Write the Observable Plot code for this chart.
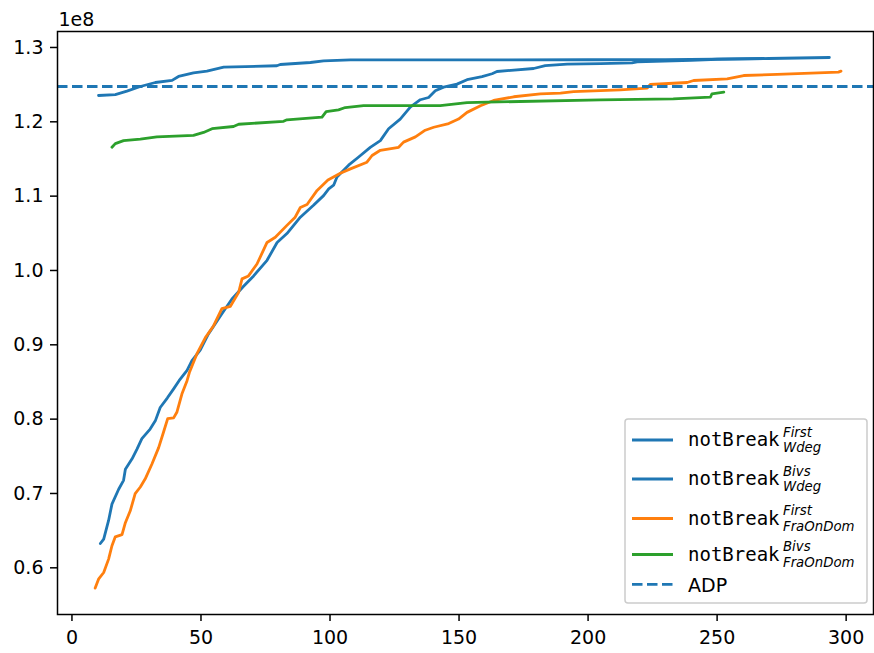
<!DOCTYPE html>
<html>
<head>
<meta charset="utf-8">
<script src="https://cdn.jsdelivr.net/npm/d3@7"></script>
<script src="https://cdn.jsdelivr.net/npm/@observablehq/plot@0.6"></script>
<style>
  html, body { margin: 0; padding: 0; background: white; }
  #chart svg { display: block; }
</style>
</head>
<body>
<div id="chart"></div>
<script>
// values in units of 1e8
const firstWdegX = [11.0,12.3,14.2,15.5,18.1,20.0,20.7,23.3,25.2,27.1,30.3,32.3,34.2,37.0,39.4,41.5,44.6,46.5,49.7,52.9,58.1,62.0,66.5,70.4,75.6,79.5,83.3,88.5,93.6,97.5,99.5,101.4,102.7,107.2,111.1,115.6,119.5,122.7,127.2,131.1,135.0,138.2,140.8,144.0,149.2,153.1,158.9,162.8,164.7,178.9,183.4,191.9,204.8,217.0,219.0,240.0,250.0,268.0];
const firstWdegY = [0.630,0.636,0.661,0.683,0.703,0.715,0.730,0.744,0.757,0.771,0.784,0.795,0.813,0.826,0.838,0.849,0.863,0.876,0.890,0.912,0.939,0.959,0.976,0.990,1.011,1.035,1.047,1.069,1.085,1.098,1.107,1.112,1.123,1.139,1.150,1.163,1.172,1.188,1.201,1.217,1.227,1.230,1.239,1.244,1.248,1.254,1.258,1.262,1.265,1.269,1.273,1.275,1.2755,1.2765,1.278,1.280,1.2815,1.2825];

const bivsWdegX = [10.3,16.8,21.3,26.5,32.3,38.8,41.3,47.1,52.3,58.8,79.4,80.7,92.4,97.5,107.9,200.0,230.0,270.0,293.5];
const bivsWdegY = [1.2327,1.234,1.2385,1.2448,1.2502,1.253,1.2583,1.2632,1.2654,1.2708,1.2727,1.2744,1.2771,1.2794,1.2805,1.2808,1.281,1.2825,1.2838];

const firstFraX = [9.0,10.3,12.3,14.2,15.5,16.8,19.4,20.7,22.6,24.5,26.5,28.4,31.0,33.6,35.5,37.1,39.4,40.7,42.6,44.6,45.5,48.4,51.7,54.9,58.1,61.4,64.6,65.9,68.4,71.7,75.6,78.8,83.3,86.5,88.5,91.1,95.0,99.2,104.0,107.9,114.3,116.3,119.5,126.6,128.5,133.1,136.9,140.2,146.0,149.8,153.1,158.3,163.4,171.2,181.5,189.3,194.4,212.5,222.9,224.1,238.4,240.9,253.9,260.3,273.3,297.0,298.0];
const firstFraY = [0.570,0.582,0.591,0.609,0.627,0.639,0.642,0.658,0.674,0.697,0.706,0.717,0.737,0.759,0.780,0.798,0.799,0.807,0.831,0.849,0.860,0.885,0.907,0.923,0.946,0.949,0.968,0.986,0.990,1.006,1.035,1.042,1.058,1.069,1.082,1.086,1.105,1.119,1.128,1.134,1.143,1.152,1.159,1.163,1.170,1.177,1.186,1.190,1.195,1.201,1.210,1.219,1.226,1.231,1.235,1.236,1.238,1.2404,1.2425,1.2475,1.2502,1.2529,1.2552,1.2596,1.261,1.2641,1.2655];

const bivsFraX = [15.5,16.8,20.0,26.5,32.9,47.1,51.0,54.3,62.6,64.6,82.0,83.3,96.9,98.5,103.3,105.9,113.0,142.7,153.1,160.9,204.8,233.0,247.4,248.0,252.6];
const bivsFraY = [1.163,1.168,1.172,1.174,1.177,1.179,1.183,1.188,1.191,1.194,1.198,1.200,1.2035,1.2110,1.2134,1.2165,1.219,1.219,1.223,1.2237,1.2269,1.2282,1.2304,1.235,1.2372];

const adpValue = 1.2448;

const xTicks = [0, 50, 100, 150, 200, 250, 300];
const yTicks = [0.6, 0.7, 0.8, 0.9, 1.0, 1.1, 1.2, 1.3];

const seriesNames = ["First Wdeg", "Bivs Wdeg", "First FraOnDom", "Bivs FraOnDom"];
const C0 = "#1f77b4", C1 = "#ff7f0e", C2 = "#2ca02c";

const toRows = (xs, ys) => xs.map((x, i) => ({x, y: ys[i]}));
const rowsA = toRows(firstWdegX, firstWdegY);
const rowsB = toRows(bivsWdegX, bivsWdegY);
const rowsC = toRows(firstFraX, firstFraY);
const rowsD = toRows(bivsFraX, bivsFraY);

const lw = 2.8;
const chart = Plot.plot({
  width: 874,
  height: 653,
  marginLeft: 57,
  marginRight: 1,
  marginTop: 31,
  marginBottom: 39,
  style: {fontFamily: "DejaVu Sans", fontSize: "19px", color: "black", background: "white"},
  x: {domain: [-5.6, 310.6]},
  y: {domain: [0.5345, 1.3188]},
  marks: [
    Plot.axisX({ticks: xTicks, tickSize: 7, tickPadding: 9, strokeWidth: 1.5, label: null, fontSize: 19, tickFormat: d => String(d)}),
    Plot.axisY({ticks: yTicks, tickSize: 7, tickPadding: 7, strokeWidth: 1.5, label: null, fontSize: 19, dy: 2, tickFormat: d => d.toFixed(1)}),
    Plot.line(rowsA, {x: "x", y: "y", stroke: C0, strokeWidth: lw}),
    Plot.line(rowsB, {x: "x", y: "y", stroke: C0, strokeWidth: lw}),
    Plot.line(rowsC, {x: "x", y: "y", stroke: C1, strokeWidth: lw}),
    Plot.line(rowsD, {x: "x", y: "y", stroke: C2, strokeWidth: lw}),
    Plot.ruleY([adpValue], {stroke: C0, strokeWidth: lw, strokeDasharray: "10.5,4.5"}),
    Plot.frame({stroke: "black", strokeWidth: 1.5}),
    Plot.text(["1e8"], {frameAnchor: "top-left", textAnchor: "start", lineAnchor: "bottom", dx: 1, dy: -6, fontSize: 19})
  ]
});

// legend (matplotlib style, inside the axes, lower right)
const svg = d3.select(chart);
const lg = svg.append("g").attr("text-anchor", "start");
lg.append("rect").attr("x", 625).attr("y", 419).attr("width", 242).attr("height", 184)
  .attr("rx", 3).attr("fill", "white").attr("fill-opacity", 0.8)
  .attr("stroke", "#cccccc").attr("stroke-width", 1.5);
const entries = [
  {color: C0, dash: null, sup: "First", sub: "Wdeg", base: 446},
  {color: C0, dash: null, sup: "Bivs", sub: "Wdeg", base: 485},
  {color: C1, dash: null, sup: "First", sub: "FraOnDom", base: 524.5},
  {color: C2, dash: null, sup: "Bivs", sub: "FraOnDom", base: 560.5},
  {color: C0, dash: "10.5,4.5", label: "ADP", base: 591.7}
];
const addText = (x, y, family, size, italic, str) =>
  lg.append("text").attr("x", x).attr("y", y).attr("text-anchor", "start")
    .style("font-family", family).style("font-size", size + "px")
    .style("font-style", italic ? "italic" : "normal").attr("fill", "black").text(str);
entries.forEach(e => {
  const ly = e.label ? e.base - 7.4 : e.base - 6;
  lg.append("line").attr("x1", 632).attr("x2", 673).attr("y1", ly).attr("y2", ly)
    .attr("stroke", e.color).attr("stroke-width", lw)
    .attr("stroke-dasharray", e.dash);
  if (e.label) {
    addText(688, e.base, "DejaVu Sans", 19, false, e.label);
  } else {
    addText(688, e.base, "DejaVu Sans Mono", 19, false, "notBreak");
    addText(783, e.base - 9.3, "DejaVu Sans", 13.3, true, e.sup);
    addText(783, e.base + 6.2, "DejaVu Sans", 13.3, true, e.sub);
  }
});

document.getElementById("chart").appendChild(chart);
</script>
</body>
</html>
